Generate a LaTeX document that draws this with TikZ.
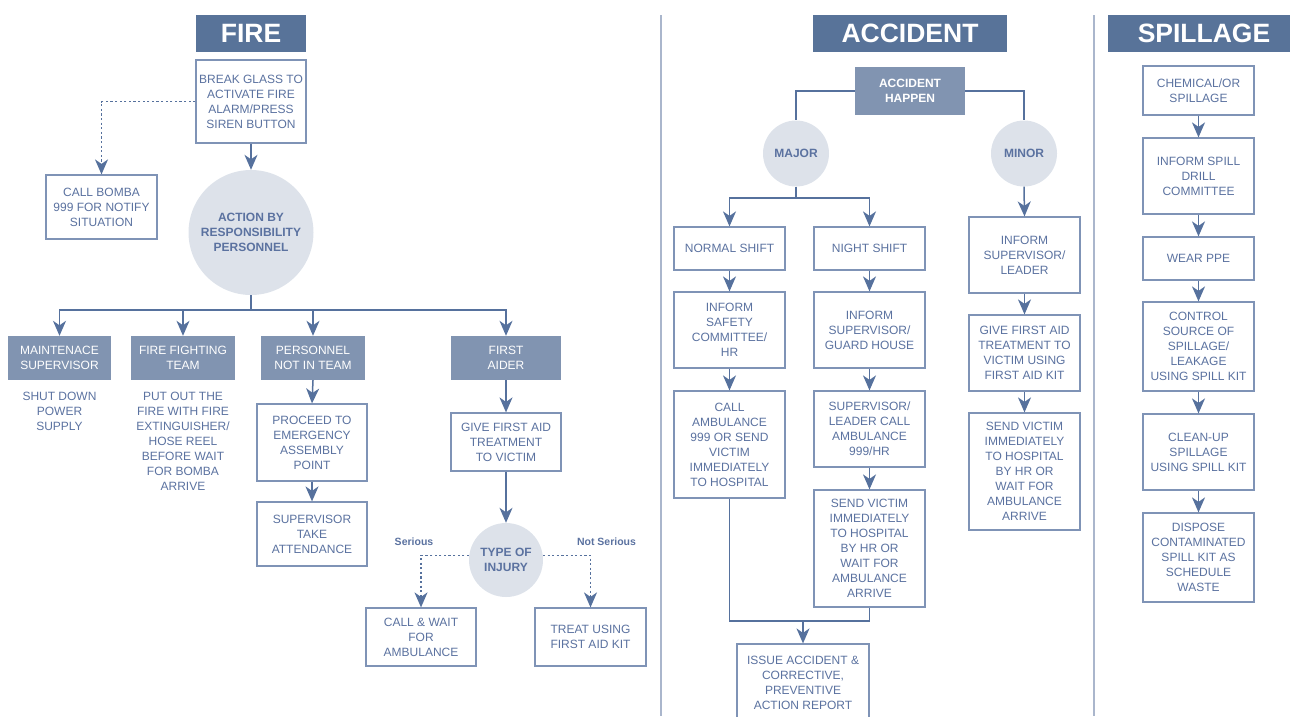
\documentclass[tikz,border=0pt]{standalone}
\usepackage{fontspec}
\setmainfont{Liberation Sans}
\usetikzlibrary{arrows.meta}

\definecolor{headfill}{HTML}{587399}
\definecolor{rolefill}{HTML}{8194B1}
\definecolor{bubblefill}{HTML}{DDE2EA}
\definecolor{boxline}{HTML}{7F93B6}
\definecolor{txt}{HTML}{5B72A0}
\definecolor{linkcol}{HTML}{56719D}
\definecolor{sepcol}{HTML}{AAB6CC}

\tikzset{
	head/.style={fill=headfill, text=white, font=\bfseries\fontsize{26.5}{30}\selectfont, minimum height=37pt, inner sep=0pt},
	box/.style={draw=boxline, line width=1.2pt, fill=white, text=txt, align=center, inner sep=1pt, font=\fontsize{12}{15}\selectfont},
	role/.style={fill=rolefill, text=white, align=center, inner sep=1pt, minimum height=44pt, font=\fontsize{12}{15}\selectfont},
	bubble/.style={circle, fill=bubblefill, text=txt, align=center, inner sep=0pt, font=\bfseries\fontsize{12}{15}\selectfont},
	note/.style={text=txt, align=center, font=\fontsize{12}{15}\selectfont},
	tag/.style={text=txt, font=\bfseries\fontsize{10.5}{12}\selectfont},
	link/.style={draw=linkcol, line width=1.5pt},
	arr/.style={link, -{Stealth[length=15pt,width=13pt,inset=4.5pt]}},
	dotarr/.style={arr, line width=1.6pt, dash pattern=on 2.2pt off 2.4pt},
}

\begin{document}
\begin{tikzpicture}[x=1pt, y=-1pt]
		\useasboundingbox (0,0) rectangle (1290,716);
		
		% separators
		\draw[sepcol, line width=1.5pt] (661,15) -- (661,716);
		\draw[sepcol, line width=1.5pt] (1094,15) -- (1094,716);
		
		% (1) Fire
		\begin{scope}
			\node[head, minimum width=110pt] (firehead) at (251,33.5) {FIRE};
			\node[box, minimum width=110pt, minimum height=83pt] (break) at (251,101.5) {BREAK GLASS TO\\ACTIVATE FIRE\\ALARM/PRESS\\SIREN BUTTON};
			\node[box, minimum width=111pt, minimum height=64pt] (bomba) at (101.5,207) {CALL BOMBA\\999 FOR NOTIFY\\SITUATION};
			\node[bubble, minimum size=125pt] (action) at (251,232.5) {ACTION BY\\RESPONSIBILITY\\PERSONNEL};
			\node[role, minimum width=103pt] (maint) at (59.5,358) {MAINTENACE\\SUPERVISOR};
			\node[role, minimum width=104pt] (fight) at (183,358) {FIRE FIGHTING\\TEAM};
			\node[role, minimum width=104pt] (pers) at (313,358) {PERSONNEL\\NOT IN TEAM};
			\node[role, minimum width=110pt] (aider) at (506,358) {FIRST\\AIDER};
			\node[note] (shut) at (59.5,411.5) {SHUT DOWN\\POWER\\SUPPLY};
			\node[note] (putout) at (183,441.5) {PUT OUT THE\\FIRE WITH FIRE\\EXTINGUISHER/\\HOSE REEL\\BEFORE WAIT\\FOR BOMBA\\ARRIVE};
			\node[box, minimum width=110pt, minimum height=77pt] (proceed) at (312,442.5) {PROCEED TO\\EMERGENCY\\ASSEMBLY\\POINT};
			\node[box, minimum width=110pt, minimum height=64pt] (attend) at (312,534) {SUPERVISOR\\TAKE\\ATTENDANCE};
			\node[box, minimum width=110pt, minimum height=58pt] (giveaid) at (506,442) {GIVE FIRST AID\\TREATMENT\\TO VICTIM};
			\node[bubble, minimum size=74pt] (injury) at (506,560) {TYPE OF\\INJURY};
			\node[box, minimum width=110pt, minimum height=58pt] (callwait) at (421,637) {CALL \& WAIT\\FOR\\AMBULANCE};
			\node[box, minimum width=111pt, minimum height=58pt] (treat) at (590.5,637) {TREAT USING\\FIRST AID KIT};
			\node[tag] (serious) at (414,542) {Serious};
			\node[tag] (notserious) at (606.5,542) {Not Serious};
			
			\coordinate (firesplit) at (251,310);
			\draw[dotarr] (break.west) -| (bomba.north);
			\draw[arr] (break.south) -- (action.north);
			\draw[link] (action.south) -- (firesplit);
			\foreach \n in {maint,fight,pers,aider}
				\draw[arr] (firesplit) -| (\n.north);
			\draw[arr] (pers.south) -- (proceed.north);
			\draw[arr] (proceed.south) -- (attend.north);
			\draw[arr] (aider.south) -- (giveaid.north);
			\draw[arr] (giveaid.south) -- (injury.north);
			\draw[dotarr] (injury.173) -| (callwait.north);
			\draw[dotarr] (injury.7) -| (treat.north);
		\end{scope}
		
		% (2) Accident
		\begin{scope}
			\node[head, minimum width=194pt] (acchead) at (910,33.5) {ACCIDENT};
			\node[role, minimum width=110pt, minimum height=48pt, font=\bfseries\fontsize{12}{15}\selectfont] (happen) at (910,91) {ACCIDENT\\HAPPEN};
			\node[bubble, minimum size=66pt] (major) at (796,153.5) {MAJOR};
			\node[bubble, minimum size=66pt] (minor) at (1024,153.5) {MINOR};
			\node[box, minimum width=111pt, minimum height=43pt] (normal) at (729.5,248.5) {NORMAL SHIFT};
			\node[box, minimum width=111pt, minimum height=43pt] (night) at (869.5,248.5) {NIGHT SHIFT};
			\node[box, minimum width=111pt, minimum height=76pt] (safety) at (729.5,330) {INFORM\\SAFETY\\COMMITTEE/\\HR};
			\node[box, minimum width=111pt, minimum height=107pt] (callamb) at (729.5,444.5) {CALL\\AMBULANCE\\999 OR SEND\\VICTIM\\IMMEDIATELY\\TO HOSPITAL};
			\node[box, minimum width=111pt, minimum height=76pt] (guard) at (869.5,330) {INFORM\\SUPERVISOR/\\GUARD HOUSE};
			\node[box, minimum width=111pt, minimum height=76pt] (leadcall) at (869.5,429) {SUPERVISOR/\\LEADER CALL\\AMBULANCE\\999/HR};
			\node[box, minimum width=111pt, minimum height=117pt] (sendnight) at (869.5,548.5) {SEND VICTIM\\IMMEDIATELY\\TO HOSPITAL\\BY HR OR\\WAIT FOR\\AMBULANCE\\ARRIVE};
			\node[box, minimum width=132pt, minimum height=77pt] (issue) at (803,682.5) {ISSUE ACCIDENT \&\\CORRECTIVE,\\PREVENTIVE\\ACTION REPORT};
			\node[box, minimum width=111pt, minimum height=76pt] (informlead) at (1024.5,255) {INFORM\\SUPERVISOR/\\LEADER};
			\node[box, minimum width=111pt, minimum height=76pt] (aidkit) at (1024.5,353) {GIVE FIRST AID\\TREATMENT TO\\VICTIM USING\\FIRST AID KIT};
			\node[box, minimum width=111pt, minimum height=117pt] (sendminor) at (1024.5,471.5) {SEND VICTIM\\IMMEDIATELY\\TO HOSPITAL\\BY HR OR\\WAIT FOR\\AMBULANCE\\ARRIVE};
			
			\coordinate (majsplit) at (796,198);
			\coordinate (merge) at (803,621);
			\draw[link] (happen.west) -| (major.north);
			\draw[link] (happen.east) -| (minor.north);
			\draw[link] (major.south) -- (majsplit);
			\draw[arr] (majsplit) -| (normal.north);
			\draw[arr] (majsplit) -| (night.north);
			\draw[arr] (normal.south) -- (safety.north);
			\draw[arr] (safety.south) -- (callamb.north);
			\draw[arr] (night.south) -- (guard.north);
			\draw[arr] (guard.south) -- (leadcall.north);
			\draw[arr] (leadcall.south) -- (sendnight.north);
			\draw[link] (callamb.south) |- (sendnight.south |- merge) -- (sendnight.south);
			\draw[arr] (merge) -- (issue.north);
			\draw[arr] (minor.south) -- (informlead.north);
			\draw[arr] (informlead.south) -- (aidkit.north);
			\draw[arr] (aidkit.south) -- (sendminor.north);
		\end{scope}
		
		% (3) Spillage
		\begin{scope}
			\node[head, minimum width=192pt] (spillhead) at (1204,33.5) {SPILLAGE};
			\node[box, minimum width=111pt, minimum height=49pt] (chem) at (1198.5,90.5) {CHEMICAL/OR\\SPILLAGE};
			\node[box, minimum width=111pt, minimum height=76pt] (drill) at (1198.5,176) {INFORM SPILL\\DRILL\\COMMITTEE};
			\node[box, minimum width=111pt, minimum height=43pt] (ppe) at (1198.5,258.5) {WEAR PPE};
			\node[box, minimum width=111pt, minimum height=89pt] (control) at (1198.5,346.5) {CONTROL\\SOURCE OF\\SPILLAGE/\\LEAKAGE\\USING SPILL KIT};
			\node[box, minimum width=111pt, minimum height=76pt] (clean) at (1198.5,452) {CLEAN-UP\\SPILLAGE\\USING SPILL KIT};
			\node[box, minimum width=111pt, minimum height=89pt] (dispose) at (1198.5,557.5) {DISPOSE\\CONTAMINATED\\SPILL KIT AS\\SCHEDULE\\WASTE};
			
			\draw[arr] (chem.south) -- (drill.north);
			\draw[arr] (drill.south) -- (ppe.north);
			\draw[arr] (ppe.south) -- (control.north);
			\draw[arr] (control.south) -- (clean.north);
			\draw[arr] (clean.south) -- (dispose.north);
		\end{scope}
	\end{tikzpicture}
\end{document}
